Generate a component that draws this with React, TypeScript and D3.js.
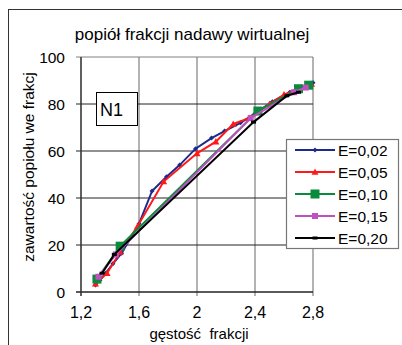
import React from "react";
import * as d3 from "d3";

const title = "popiół frakcji nadawy wirtualnej";
const xTitle = "gęstość  frakcji";
const yTitle = "zawartość popiołu we frakcj";
const xTicks = [1.2, 1.6, 2.0, 2.4, 2.8];
const yTicks = [0, 20, 40, 60, 80, 100];
const seriesNames = ["E=0,02", "E=0,05", "E=0,10", "E=0,15", "E=0,20"];
const seriesColors = ["#1c2a8c", "#ff1a1a", "#0a8a3c", "#c050c0", "#000000"];
const seriesMarkers = ["diamond", "triangle", "bigsquare", "square", "dash"];

const e002: [number, number][] = [
  [1.30, 3], [1.33, 5], [1.37, 8], [1.42, 12], [1.48, 16.5], [1.60, 29], [1.69, 43],
  [1.79, 49], [1.88, 54], [1.99, 61], [2.10, 65.5], [2.19, 68.5], [2.30, 72],
  [2.40, 76], [2.52, 81], [2.64, 85], [2.72, 87], [2.80, 89],
];
const e005: [number, number][] = [
  [1.30, 3.5], [1.38, 8], [1.47, 17], [1.59, 28], [1.77, 47], [2.00, 59],
  [2.13, 64], [2.25, 71.5], [2.36, 74], [2.50, 80], [2.60, 84], [2.70, 86.5], [2.79, 88.5],
];
const e010: [number, number][] = [
  [1.31, 5.5], [1.47, 19.5], [2.42, 77], [2.70, 86.5], [2.77, 88],
];
const e015: [number, number][] = [
  [1.32, 6.5], [1.44, 16], [2.37, 74], [2.67, 85], [2.75, 87],
];
const e020: [number, number][] = [
  [1.345, 8], [1.43, 16], [2.39, 72.3], [2.62, 83.5], [2.70, 85],
];
const allSeries = [e002, e005, e010, e015, e020];

export default function App() {
  const x = d3.scaleLinear().domain([1.2, 2.8]).range([81, 313]);
  const y = d3.scaleLinear().domain([0, 100]).range([292, 57]);
  const line = d3.line<[number, number]>().x((d) => x(d[0])).y((d) => y(d[1]));
  const font = "'Liberation Sans', Arial, sans-serif";

  const marker = (kind: string, cx: number, cy: number, color: string, key: string) => {
    if (kind === "diamond") {
      const s = 2.5;
      return <path key={key} d={`M${cx},${cy - s}L${cx + s},${cy}L${cx},${cy + s}L${cx - s},${cy}Z`} fill={color} />;
    }
    if (kind === "triangle") {
      const s = 3.5;
      return <path key={key} d={`M${cx},${cy - s}L${cx + s},${cy + s * 0.8}L${cx - s},${cy + s * 0.8}Z`} fill={color} />;
    }
    if (kind === "bigsquare") {
      return <rect key={key} x={cx - 4.5} y={cy - 4.5} width={9} height={9} fill={color} />;
    }
    if (kind === "square") {
      return <rect key={key} x={cx - 3} y={cy - 3} width={6} height={6} fill={color} />;
    }
    return <rect key={key} x={cx - 2.5} y={cy - 1.5} width={5} height={3} fill={color} />;
  };

  return (
    <svg width={402} height={345} style={{ position: "absolute", left: 0, top: 0, background: "#fff" }}>
      <rect x={8.5} y={9.5} width={420} height={360} fill="#fff" stroke="#333" strokeWidth={1} />
      <text x={192} y={40} textAnchor="middle" fontFamily={font} fontSize={17} fill="#000">{title}</text>

      {/* vertical grid */}
      {xTicks.map((t) => (
        <line key={"vx" + t} x1={x(t)} x2={x(t)} y1={y(100)} y2={y(0) + 4} stroke="#808080" strokeWidth={1.2} />
      ))}
      {/* horizontal grid */}
      {yTicks.map((t) => (
        <line key={"hy" + t} x1={x(1.2) - 5} x2={x(2.8)} y1={y(t)} y2={y(t)}
          stroke={t === 100 ? "#808080" : "#222"} strokeWidth={t === 0 ? 1.3 : 1} />
      ))}
      <line x1={x(1.2)} x2={x(1.2)} y1={y(100)} y2={y(0) + 4} stroke="#333" strokeWidth={1.3} />

      {xTicks.map((t) => (
        <text key={"xt" + t} x={x(t)} y={318} textAnchor="middle" fontFamily={font} fontSize={16} fill="#000">
          {t === 2 ? "2" : String(t).replace(".", ",")}
        </text>
      ))}
      {yTicks.map((t) => (
        <text key={"yt" + t} x={65} y={y(t) + 5.5} textAnchor="end" fontFamily={font} fontSize={15.5} fill="#000">{t}</text>
      ))}
      <text x={199} y={339} textAnchor="middle" fontFamily={font} fontSize={15} fill="#000" style={{ whiteSpace: "pre" }}>{xTitle}</text>
      <text transform="translate(34,167) rotate(-90)" textAnchor="middle" fontFamily={font} fontSize={15.5} fill="#000">{yTitle}</text>

      {/* N1 box */}
      <rect x={96.5} y={92.5} width={41} height={33} fill="#fff" stroke="#000" strokeWidth={1} />
      <text x={100} y={116} fontFamily={font} fontSize={18} fill="#000">N1</text>

      {allSeries.map((s, i) => (
        <g key={"s" + i}>
          <path d={line(s) || ""} fill="none" stroke={seriesColors[i]} strokeWidth={2} />
          {s.map((d, j) => marker(seriesMarkers[i], x(d[0]), y(d[1]), seriesColors[i], `m${i}-${j}`))}
        </g>
      ))}

      {/* legend */}
      <rect x={286.5} y={139.5} width={112} height={109} fill="#fff" stroke="#777" strokeWidth={1.2} />
      {seriesNames.map((n, i) => {
        const ly = 150 + i * 22;
        return (
          <g key={"l" + i}>
            <line x1={295} x2={335} y1={ly} y2={ly} stroke={seriesColors[i]} strokeWidth={2} />
            {marker(seriesMarkers[i], 315, ly, seriesColors[i], "lm" + i)}
            <text x={338} y={ly + 5.5} fontFamily={font} fontSize={15.5} fill="#000">{n}</text>
          </g>
        );
      })}
    </svg>
  );
}
